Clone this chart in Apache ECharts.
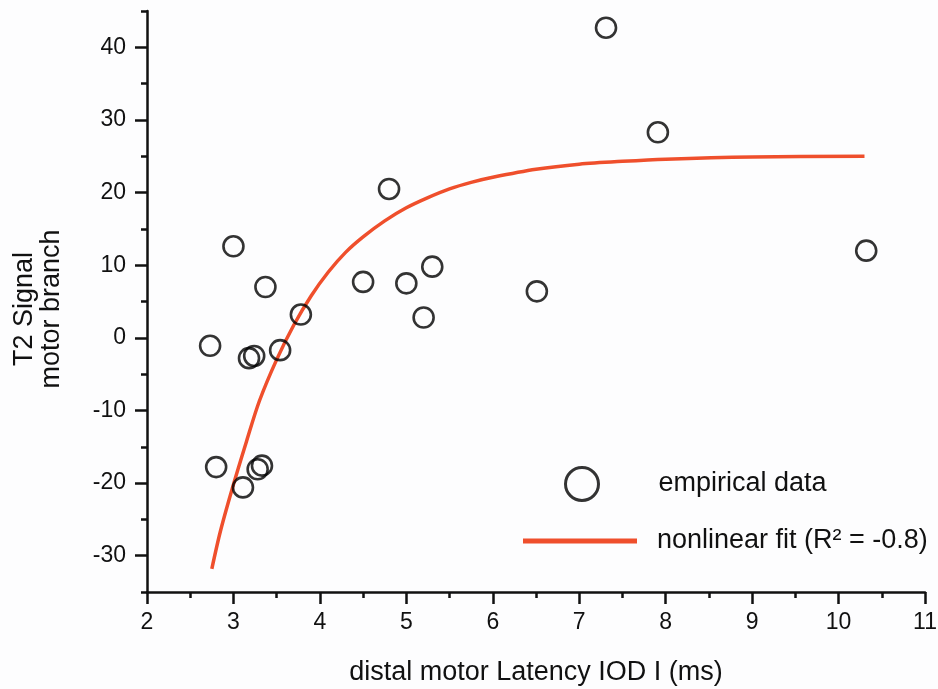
<!DOCTYPE html>
<html>
<head>
<meta charset="utf-8">
<script src="https://cdn.jsdelivr.net/npm/echarts@6/dist/echarts.min.js"></script>
<style>html,body{margin:0;padding:0;background:#fdfdfe;}#c{width:938px;height:689px;}</style>
</head>
<body>
<div id="c"></div>
<script>
// Empirical data
const dataX = [2.73, 2.80, 3.00, 3.11, 3.18, 3.24, 3.28, 3.33, 3.37, 3.54, 3.78, 4.50, 4.80, 5.00, 5.20, 5.30, 6.51, 7.31, 7.91, 10.32];
const dataY = [-1.1, -17.8, 12.6, -20.6, -2.8, -2.5, -18.1, -17.6, 7.0, -1.7, 3.2, 7.7, 20.5, 7.5, 2.8, 9.8, 6.4, 42.7, 28.3, 12.0];
// Nonlinear fit curve
const fitX = [2.75, 2.85, 3.0, 3.15, 3.3, 3.5, 3.7, 3.9, 4.1, 4.3, 4.5, 4.75, 5.0, 5.25, 5.5, 5.75, 6.0, 6.5, 7.0, 7.5, 8.0, 9.0, 10.3];
const fitY = [-31.8, -26.6, -20.2, -14.3, -8.7, -3.0, 1.8, 5.8, 9.1, 11.8, 13.9, 16.1, 17.9, 19.3, 20.5, 21.4, 22.1, 23.2, 23.9, 24.3, 24.6, 24.9, 25.0];
// Tick labels
const yMajorTicks = [-30, -20, -10, 0, 10, 20, 30, 40];

const nameScatter = 'empirical data';
const nameFit = 'nonlinear fit (R\u00B2 = -0.8)';
const yTitle = 'T2 Signal\nmotor branch';
const xTitle = 'distal motor Latency IOD I (ms)';
const font = 'Liberation Sans, Arial, sans-serif';
const ink = '#111111';

const chart = echarts.init(document.getElementById('c'), null, {renderer: 'canvas'});
chart.setOption({
  backgroundColor: '#fdfdfe',
  animation: false,
  grid: {left: 147, right: 13, top: 11, bottom: 97, containLabel: false, outerBoundsMode: 'none'},
  xAxis: {
    type: 'value', min: 2, max: 11, interval: 1,
    name: xTitle, nameLocation: 'middle', nameGap: 67,
    nameTextStyle: {fontFamily: font, fontSize: 27, color: ink},
    axisLine: {show: true, onZero: false, lineStyle: {color: ink, width: 2.5}},
    axisTick: {show: true, length: 12, lineStyle: {color: ink, width: 2.5}},
    minorTick: {show: true, splitNumber: 2, length: 6, lineStyle: {color: ink, width: 2.5}},
    axisLabel: {fontFamily: font, fontSize: 23, color: ink, margin: 19},
    splitLine: {show: false}
  },
  yAxis: [{
    type: 'value', min: -35, max: 45, interval: 5,
    axisLine: {show: true, onZero: false, lineStyle: {color: ink, width: 2.5}},
    axisTick: {show: true, length: 6, lineStyle: {color: ink, width: 2.5}},
    axisLabel: {fontFamily: font, fontSize: 23, color: ink, margin: 21,
      formatter: function (v) { return (Math.round(v) % 10 === 0 && v > -35 && v < 45) ? String(v) : ''; }},
    splitLine: {show: false}
  }, {
    type: 'value', min: -35, max: 45, position: 'left',
    axisLine: {show: false},
    axisTick: {show: true, length: 12, customValues: yMajorTicks, lineStyle: {color: ink, width: 2.5}},
    axisLabel: {show: false},
    splitLine: {show: false}
  }],
  graphic: [{
    type: 'text', x: 38, y: 309, rotation: Math.PI / 2,
    style: {text: yTitle, fontFamily: font, fontSize: 27, lineHeight: 27, fill: ink,
      textAlign: 'center', textVerticalAlign: 'middle'}
  }],
  legend: [{
    data: [nameScatter], orient: 'vertical', left: 564, top: 466, padding: 0,
    itemWidth: 33, itemHeight: 33,
    itemStyle: {borderWidth: 3},
    textStyle: {fontFamily: font, fontSize: 27, lineHeight: 30, color: ink, padding: [0, 0, 0, 55]}
  }, {
    data: [{name: nameFit, icon: 'rect'}], orient: 'vertical', left: 523, top: 526, padding: 0,
    itemWidth: 114, itemHeight: 5,
    textStyle: {fontFamily: font, fontSize: 27, lineHeight: 30, color: ink, padding: [0, 0, 0, 15]}
  }],
  series: [{
    name: nameFit, type: 'line', smooth: 0.3, showSymbol: false, symbol: 'none',
    color: '#ef4f2c',
    lineStyle: {color: '#ef4f2c', width: 3.5},
    data: fitX.map((x, i) => [x, fitY[i]]),
    z: 2
  }, {
    name: nameScatter, type: 'scatter', symbol: 'circle', symbolSize: 20,
    itemStyle: {color: 'rgba(255,255,255,0)', borderColor: '#000', borderWidth: 2.6},
    data: dataX.map((x, i) => [x, dataY[i]]),
    z: 3
  }]
});
</script>
</body>
</html>
